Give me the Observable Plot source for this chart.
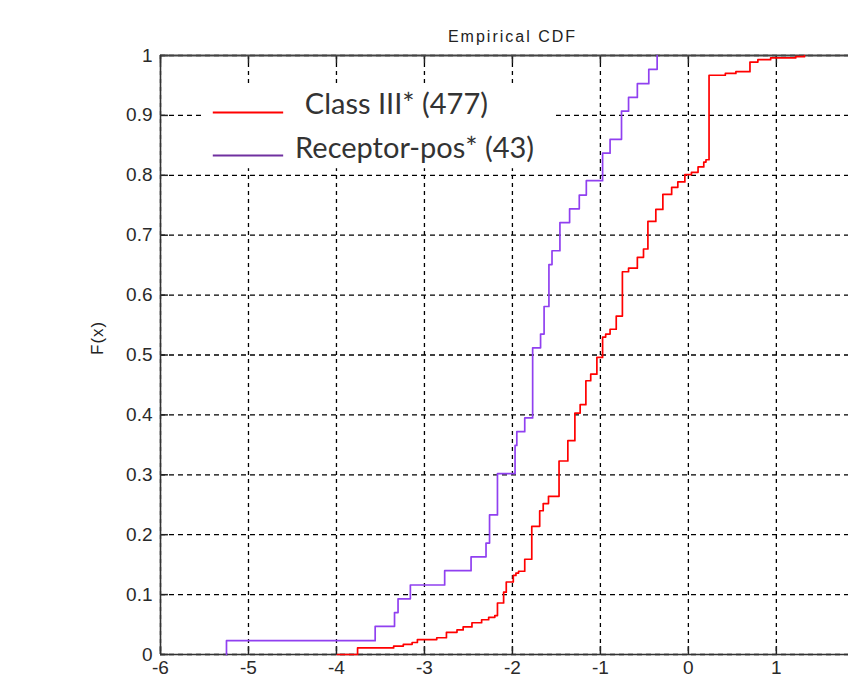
<!DOCTYPE html>
<html><head><meta charset="utf-8">
<script src="https://cdn.jsdelivr.net/npm/d3@7"></script>
<script src="https://cdn.jsdelivr.net/npm/@observablehq/plot@0.6"></script>
<style>body{margin:0;background:#fff;} #chart svg{display:block;}</style>
</head><body><div id="chart"></div>
<script>
const titleText = "Empirical CDF";
const yLabelText = "F(x)";
const xTicks = [-6, -5, -4, -3, -2, -1, 0, 1];
const yTicks = [0, 0.1, 0.2, 0.3, 0.4, 0.5, 0.6, 0.7, 0.8, 0.9, 1];
const seriesNames = ["Class III* (477)", "Receptor-pos* (43)"];

const classX = [-3.99, -3.76, -3.35, -3.24, -3.14, -3.08, -2.86, -2.75, -2.63, -2.56, -2.46, -2.35, -2.27, -2.20, -2.17, -2.10, -2.07, -1.99, -1.96, -1.93, -1.86, -1.78, -1.69, -1.65, -1.59, -1.47, -1.37, -1.29, -1.23, -1.165, -1.11, -1.04, -0.975, -0.94, -0.89, -0.82, -0.75, -0.68, -0.58, -0.51, -0.46, -0.37, -0.29, -0.19, -0.12, -0.04, 0.035, 0.11, 0.175, 0.20, 0.235, 0.42, 0.54, 0.70, 0.79, 0.935, 1.22, 1.32];
const classF = [0, 0.011, 0.014, 0.017, 0.020, 0.025, 0.028, 0.037, 0.041, 0.046, 0.053, 0.058, 0.062, 0.065, 0.086, 0.104, 0.121, 0.132, 0.136, 0.139, 0.159, 0.214, 0.240, 0.252, 0.264, 0.323, 0.357, 0.403, 0.417, 0.457, 0.468, 0.496, 0.530, 0.535, 0.543, 0.565, 0.639, 0.645, 0.663, 0.677, 0.723, 0.743, 0.768, 0.780, 0.789, 0.801, 0.805, 0.814, 0.822, 0.826, 0.967, 0.970, 0.973, 0.989, 0.993, 0.996, 0.998, 1.0];

const receptorX = [-5.25, -5.25, -3.56, -3.34, -3.30, -3.16, -2.77, -2.47, -2.30, -2.26, -2.17, -1.97, -1.95, -1.86, -1.77, -1.68, -1.64, -1.585, -1.55, -1.46, -1.35, -1.24, -1.16, -0.975, -0.89, -0.76, -0.68, -0.58, -0.45, -0.355];
const receptorF = [0, 0.023, 0.047, 0.070, 0.093, 0.116, 0.140, 0.163, 0.186, 0.233, 0.302, 0.349, 0.372, 0.395, 0.512, 0.535, 0.581, 0.651, 0.674, 0.721, 0.744, 0.767, 0.791, 0.837, 0.860, 0.907, 0.930, 0.953, 0.977, 1.0];

const classData = classX.map((x, i) => ({x, F: classF[i]}));
const receptorData = receptorX.map((x, i) => ({x, F: receptorF[i]}));

const RED = "#ff0000";
const PURPLE = "#9040f0";
const LEGEND_PURPLE = "#7030a0";

// legend layout (data units of the axes)
const legendBox = [{x1: -5.51, x2: -1.54, y1: 0.811, y2: 0.947}];
const legendRows = [
  {name: seriesNames[0], color: RED, y: 0.905, ty: 0.918, tx: -4.36},
  {name: seriesNames[1], color: LEGEND_PURPLE, y: 0.833, ty: 0.845, tx: -4.47}
];

const tickFont = "Liberation Sans, Arial, sans-serif";
const xLen = 0.09, yLen = 0.0134;

const chart = Plot.plot({
  width: 848,
  height: 690,
  marginLeft: 160,
  marginRight: 0,
  marginTop: 55,
  marginBottom: 36,
  style: {fontFamily: tickFont, fontSize: "19px", color: "#222", background: "white"},
  x: {domain: [-6, 1.82], ticks: xTicks},
  y: {domain: [0, 1], ticks: yTicks},
  marks: [
    Plot.ruleX(xTicks, {stroke: "#000", strokeWidth: 1.3, strokeDasharray: "4,4"}),
    Plot.ruleY(yTicks, {stroke: "#000", strokeWidth: 1.3, strokeDasharray: "5,4"}),
    Plot.rect(legendBox, {x1: "x1", x2: "x2", y1: "y1", y2: "y2", fill: "white"}),
    Plot.ruleX(xTicks, {y1: 0, y2: yLen, stroke: "#222", strokeWidth: 1.5}),
    Plot.ruleX(xTicks, {y1: 1 - yLen, y2: 1, stroke: "#222", strokeWidth: 1.5}),
    Plot.ruleY(yTicks, {x1: -6, x2: -6 + xLen, stroke: "#222", strokeWidth: 1.5}),
    Plot.ruleY([0], {stroke: "#333", strokeWidth: 1.6}),
    Plot.ruleY([1], {stroke: "#444", strokeWidth: 2}),
    Plot.ruleX([-6], {stroke: "#333", strokeWidth: 1.6}),
    Plot.axisX({ticks: xTicks, tickSize: 0, tickPadding: 6, tickFormat: d => String(d), label: null, fontSize: 19, fill: "#2a2a2a"}),
    Plot.axisY({ticks: yTicks, tickSize: 0, tickPadding: 8, tickFormat: d => String(d), label: null, fontSize: 19, fill: "#2a2a2a"}),
    Plot.line(classData, {x: "x", y: "F", curve: "step-after", stroke: RED, strokeWidth: 1.7}),
    Plot.line(receptorData, {x: "x", y: "F", curve: "step-after", stroke: PURPLE, strokeWidth: 1.7}),
    Plot.ruleY(legendRows, {y: "y", x1: () => -5.40, x2: () => -4.60, stroke: "color", strokeWidth: 2}),
    Plot.text(legendRows, {x: "tx", y: "ty", text: "name", textAnchor: "start", fontFamily: "Lato, 'Open Sans', sans-serif", fontSize: 29, fill: "#333"}),
    Plot.text([titleText], {frameAnchor: "top", dx: 8, dy: -25, fontSize: 16, fill: "#222"}),
    Plot.text([yLabelText], {frameAnchor: "left", dx: -63, rotate: -90, fontSize: 17, fill: "#222"})
  ]
});
d3.select(chart).selectAll("text").filter(function() { return this.textContent === titleText; }).style("letter-spacing", "2px");
d3.select(chart).selectAll("text").filter(function() { return this.textContent === yLabelText; }).style("letter-spacing", "1px");
document.getElementById("chart").appendChild(chart);
</script>
</body></html>
